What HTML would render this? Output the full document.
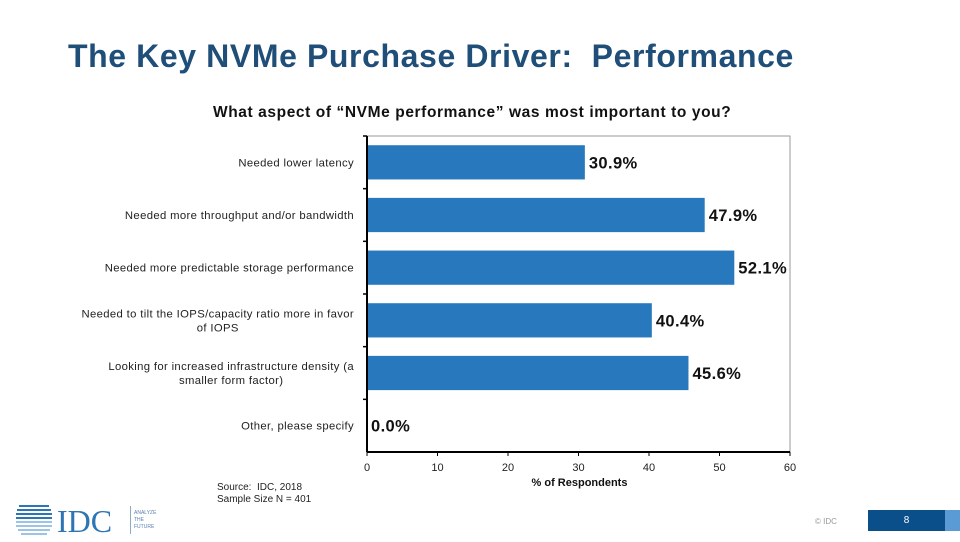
<!DOCTYPE html>
<html><head><meta charset="utf-8"><style>
body{margin:0;width:960px;height:540px;background:#fff;position:relative;overflow:hidden;font-family:"Liberation Sans",sans-serif}
.t{position:absolute;white-space:nowrap}
</style></head><body>
<div class="t" style="left:68px;top:38px;font-size:32px;font-weight:bold;color:#1f4e79;letter-spacing:0.6px">The Key NVMe Purchase Driver:&nbsp; Performance</div>
<div class="t" style="left:213px;top:104px;font-size:15.5px;font-weight:bold;color:#111;letter-spacing:0.6px">What aspect of “NVMe performance” was most important to you?</div>
<svg id="chart" width="960" height="540" style="position:absolute;left:0;top:0"></svg>
<div class="t" style="left:217px;top:482px;font-size:10px;line-height:12px;color:#222">Source:&nbsp; IDC, 2018<br>Sample Size N = 401</div>
<svg width="180" height="40" style="position:absolute;left:15px;top:502px">
<g fill="#2e75b6"><rect x="4" y="3" width="30" height="2"/><rect x="2" y="7" width="34" height="2"/><rect x="1" y="11" width="36" height="2"/><rect x="1" y="15" width="36" height="2"/></g>
<g fill="#9dc3e6"><rect x="1" y="19" width="36" height="2"/><rect x="1" y="23" width="36" height="2"/><rect x="3" y="27" width="32" height="2"/><rect x="6" y="31" width="26" height="2"/></g>
<text x="42" y="30" font-family="Liberation Serif,serif" font-size="32" fill="#2e75b6">IDC</text>
<rect x="115" y="4" width="1" height="28" fill="#8fa9c8"/>
<text x="119" y="12" font-size="5" fill="#5b82b0">ANALYZE</text><text x="119" y="19" font-size="5" fill="#5b82b0">THE</text><text x="119" y="26" font-size="5" fill="#5b82b0">FUTURE</text>
</svg>
<div class="t" style="left:815px;top:517px;font-size:8px;color:#999">© IDC</div>
<div style="position:absolute;left:868px;top:510px;width:77px;height:21px;background:#0b4f8a;color:#fff;font-size:10px;text-align:center;line-height:21px">8</div>
<div style="position:absolute;left:945px;top:510px;width:15px;height:21px;background:#5b9bd5"></div>
<script>
const categories=["Needed lower latency","Needed more throughput and/or bandwidth","Needed more predictable storage performance","Needed to tilt the IOPS/capacity ratio more in favor|of IOPS","Looking for increased infrastructure density (a|smaller form factor)","Other, please specify"];
const values=[30.9,47.9,52.1,40.4,45.6,0.0];
const ticks=[0,10,20,30,40,50,60];
const svg=document.getElementById('chart');const NS='http://www.w3.org/2000/svg';
const L=367,R=790,T=136,B=452,max=60;
const x=v=>L+(v/max)*(R-L);
const band=(B-T)/categories.length;
const y=i=>T+i*band;
function mk(tag,attrs,txt){const e=document.createElementNS(NS,tag);for(const k in attrs)e.setAttribute(k,attrs[k]);if(txt!=null)e.textContent=txt;svg.appendChild(e);return e;}
let fr=mk('rect',{x:L,y:T,width:R-L,height:B-T,fill:'none',stroke:'#999','stroke-width':1});


categories.forEach((c,i)=>{
  const bh=band*0.65,by=y(i)+(band-bh)/2;
  const r=mk('rect',{x:L,y:by,width:x(values[i])-L,height:bh,fill:'#2878bd'});
  
  
  const vt=mk('text',{x:x(values[i])+4,y:y(i)+band/2+6,'font-size':16.5,'font-weight':'bold',fill:'#111','letter-spacing':'0.4'},values[i].toFixed(1)+'%');
  
  
  const parts=c.split('|');
  let firstW=0;
  parts.forEach((p,j)=>{
    const ty=y(i)+band/2+4+(j-(parts.length-1)/2)*14;
    const multi=parts.length>1&&j>0;
    const lt=mk('text',{x:354,y:ty,'font-size':11.3,fill:'#222','letter-spacing':'0.35','text-anchor':multi?'middle':'end'},p);
    if(j===0)firstW=lt.getComputedTextLength();
    if(multi)lt.setAttribute('x',354-firstW/2);
    
    
  });
  const tk=mk('line',{x1:L-4,x2:L,y1:y(i),y2:y(i),stroke:'#000','stroke-width':1.5});
  
  
});
const ya=mk('line',{x1:L,x2:L,y1:T,y2:B,stroke:'#000','stroke-width':2});


const xa=mk('line',{x1:L,x2:R,y1:B,y2:B,stroke:'#000','stroke-width':2});


ticks.forEach(t=>{
  const l=mk('line',{x1:x(t),x2:x(t),y1:B,y2:B+4,stroke:'#000','stroke-width':1});
  
  
  const tt=mk('text',{x:x(t),y:B+19,'font-size':11,fill:'#222','text-anchor':'middle'},String(t));
  
  
});
const xt=mk('text',{x:(L+R)/2+1,y:B+34,'font-size':11,'font-weight':'bold',fill:'#111','text-anchor':'middle'},'% of Respondents');


</script>
</body></html>
